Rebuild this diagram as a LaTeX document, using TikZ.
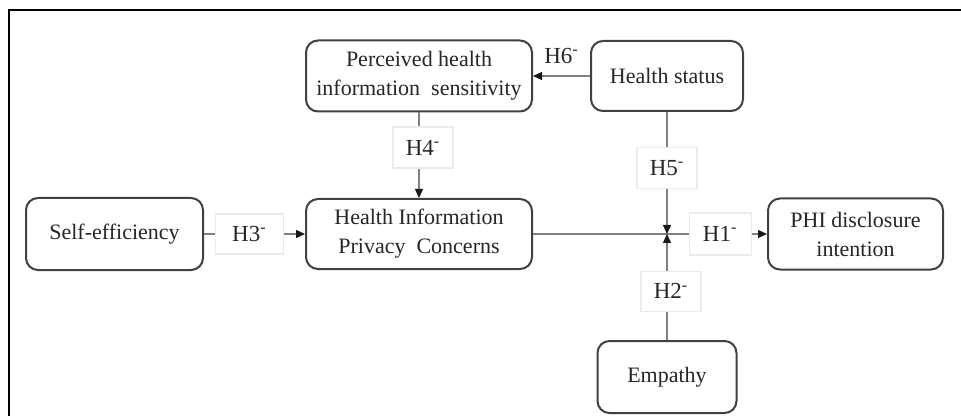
\documentclass[tikz,border=0pt]{standalone}
\usepackage{fontspec}
\setmainfont{Liberation Serif}
\usetikzlibrary{arrows.meta}

\begin{document}
\begin{tikzpicture}[x=0.5pt, y=-0.5pt,
  frm/.style={line width=1pt, black},
  var/.style={draw=black!75, line width=1pt, rounded corners=6pt, fill=white,
              align=center, text=black!85, inner sep=0pt,
              font=\fontsize{11}{14.5}\selectfont},
  ln/.style={draw=black!50, line width=0.6pt},
  arr/.style={ln, -{Triangle[length=4.5pt, width=4pt, color=black!90]}},
  hyp/.style={draw=black!8, fill=white, text=black!85, inner sep=0pt,
              minimum width=30pt, minimum height=20.5pt,
              font=\fontsize{11.5}{13}\selectfont},
  hyptxt/.style={text=black!85, inner sep=0pt, font=\fontsize{11.5}{13}\selectfont}
]
\useasboundingbox (0,0) rectangle (961,416);
% ---------------- frame ----------------
\draw[frm] (961,10) -- (9,10) -- (9,416);
% ---------------- constructs ----------------
\node[var, minimum width=113pt, minimum height=35.5pt] (perc) at (419,76)
  {Perceived health\\information\ \ sensitivity};
\node[var, minimum width=76pt, minimum height=35pt] (hstat) at (667,76) {Health status};
\node[var, minimum width=88.5pt, minimum height=36pt] (self) at (114.5,234) {Self-efficiency};
\node[var, minimum width=113pt, minimum height=35pt] (hipc) at (419,234)
  {Health Information\\Privacy\ \ Concerns};
\node[var, minimum width=87.5pt, minimum height=35.5pt] (phi) at (855.5,234)
  {PHI disclosure\\intention};
\node[var, minimum width=69.5pt, minimum height=36pt] (emp) at (667,377) {Empathy};
\coordinate (jn) at (667,234);
% ---------------- hypotheses ----------------
\draw[arr] (hstat) -- node[hyptxt, above=6pt] (h6) {H6\textsuperscript{-}} (perc);
\draw[arr] (perc) -- node[hyp, pos=0.41, xshift=2pt] (h4) {H4\textsuperscript{-}} (hipc);
\draw[arr] (self) -- node[hyp, pos=0.45, minimum width=34pt, minimum height=20pt] (h3)
  {H3\textsuperscript{-}} (hipc);
\draw[arr] (hipc) -- node[hyp, pos=0.8, minimum width=31pt, minimum height=21pt] (h1)
  {H1\textsuperscript{-}} (phi);
\draw[arr] (hstat) -- node[hyp, pos=0.46] (h5) {H5\textsuperscript{-}} (jn);
\draw[arr] (emp) -- node[hyp, pos=0.46, xshift=2pt, minimum height=20pt] (h2)
  {H2\textsuperscript{-}} (jn);
\end{tikzpicture}
\end{document}
